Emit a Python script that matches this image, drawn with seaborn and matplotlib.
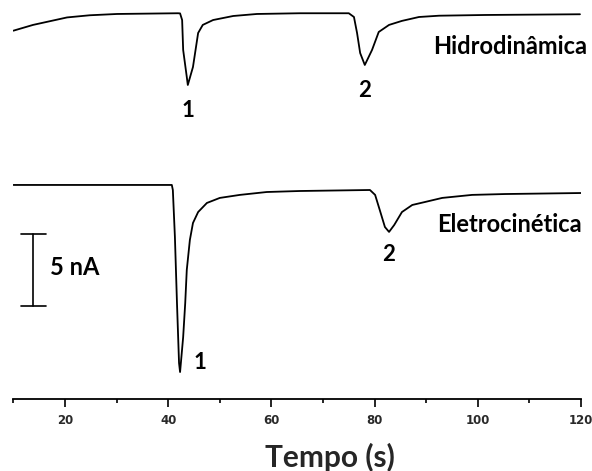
import matplotlib
matplotlib.use("Agg")
import matplotlib.pyplot as plt
import seaborn as sns
import pandas as pd
import numpy as np

# ---- data ----
time_hidro = [10, 13.8, 20.4, 24.8, 30.1, 41.9, 42.3, 42.7, 42.9, 43.6, 43.8, 44.8,
              45.8, 46.7, 48.7, 52.6, 57.2, 65.5, 75.0, 76.0, 76.6, 77.2, 78.1, 79.5,
              80.8, 82.8, 85.3, 88.6, 92.5, 101.4, 119.8]
current_hidro = [-1.21, -0.81, -0.29, -0.14, -0.05, 0, -0.01, -0.47, -2.55, -4.42, -4.98,
                 -3.73, -1.37, -0.81, -0.47, -0.19, -0.05, 0, 0, -0.26, -1.37, -2.76,
                 -3.59, -2.55, -1.30, -0.81, -0.53, -0.26, -0.17, -0.12, -0.07]

time_elec = [10, 40.7, 40.9, 41.3, 41.7, 42.1, 42.3, 42.9, 43.3, 43.6, 44.2, 44.8, 45.8,
             47.5, 50.0, 53.9, 59.1, 65.5, 79.1, 80.1, 81.0, 82.0, 82.8, 83.8, 85.3,
             87.3, 89.8, 93.1, 98.9, 105.3, 120]
current_elec = [0, 0, -0.35, -3.61, -8.19, -12.36, -12.99, -10.56, -8.19, -5.90, -3.82,
                -2.64, -1.88, -1.25, -0.90, -0.69, -0.49, -0.42, -0.35, -0.69, -1.74,
                -2.92, -3.26, -2.78, -1.88, -1.39, -1.18, -0.90, -0.69, -0.63, -0.56]

trace_names = ["Hidrodinâmica", "Eletrocinética"]
trace_offsets = [0.0, -11.92]          # vertical offset of each trace (nA)
peak_labels = ["1", "2"]

x_major_ticks = [20, 40, 60, 80, 100, 120]
x_minor_ticks = [10, 30, 50, 70, 90, 110]
x_label = "Tempo (s)"

scale_bar_nA = 5
scale_bar_label = "5 nA"

# ---- build table ----
df = pd.concat([
    pd.DataFrame({"t": time_hidro,
                  "i": np.array(current_hidro) + trace_offsets[0],
                  "trace": trace_names[0]}),
    pd.DataFrame({"t": time_elec,
                  "i": np.array(current_elec) + trace_offsets[1],
                  "trace": trace_names[1]}),
])

sns.set_theme(style="white")
plt.rcParams["font.family"] = ["Lato", "DejaVu Sans"]

fig = plt.figure(figsize=(5.92, 4.71), dpi=100)
ax = fig.add_axes([13.4 / 592, 1 - 399 / 471, (581 - 13.4) / 592, 399 / 471])

sns.lineplot(data=df, x="t", y="i", units="trace", estimator=None, sort=False,
             color="black", linewidth=1.3, ax=ax, legend=False)

ax.set_xlim(10, 120)
ax.set_ylim(-26.78, 0.92)

for s in ["top", "left", "right"]:
    ax.spines[s].set_visible(False)
ax.spines["bottom"].set_color("black")
ax.spines["bottom"].set_linewidth(1.3)

ax.set_yticks([])
ax.set_xticks(x_major_ticks)
ax.set_xticks(x_minor_ticks, minor=True)
ax.tick_params(axis="x", which="major", direction="out", length=6, width=1.2,
               color="black", bottom=True, pad=5, labelsize=8.5, labelcolor="#2a2a2a")
ax.tick_params(axis="x", which="minor", direction="out", length=3, width=1.2,
               color="black", bottom=True)
for lbl in ax.get_xticklabels():
    lbl.set_family("DejaVu Sans")
    lbl.set_fontweight("bold")

ax.set_xlabel(x_label, fontsize=21.5, fontweight="bold")
ax.xaxis.set_label_coords((330 - 13.4) / 567.6, -58 / 399)
ax.xaxis.label.set_va("center")
ax.set_ylabel("")

tkw = dict(fontweight="bold", color="black", ha="center", va="center")
ax.text(43.9, -6.72, peak_labels[0], fontsize=16, **tkw)
ax.text(78.1, -5.33, peak_labels[1], fontsize=16, **tkw)
ax.text(106.2, -2.34, trace_names[0], fontsize=17, **tkw)
ax.text(46.1, -24.28, peak_labels[0], fontsize=16, **tkw)
ax.text(82.8, -16.78, peak_labels[1], fontsize=16, **tkw)
ax.text(106.1, -14.70, trace_names[1], fontsize=17, **tkw)

# scale bar
sb_x, sb_top = 13.8, -15.33
ax.plot([sb_x, sb_x], [sb_top, sb_top - scale_bar_nA], color="black", lw=1.2)
ax.plot([11.5, 16.3], [sb_top, sb_top], color="black", lw=1.2)
ax.plot([11.5, 16.3], [sb_top - scale_bar_nA] * 2, color="black", lw=1.2)
ax.text(17.1, -17.62, scale_bar_label, fontsize=17, fontweight="bold",
        color="black", ha="left", va="center")

fig.savefig("out.png", dpi=100)
